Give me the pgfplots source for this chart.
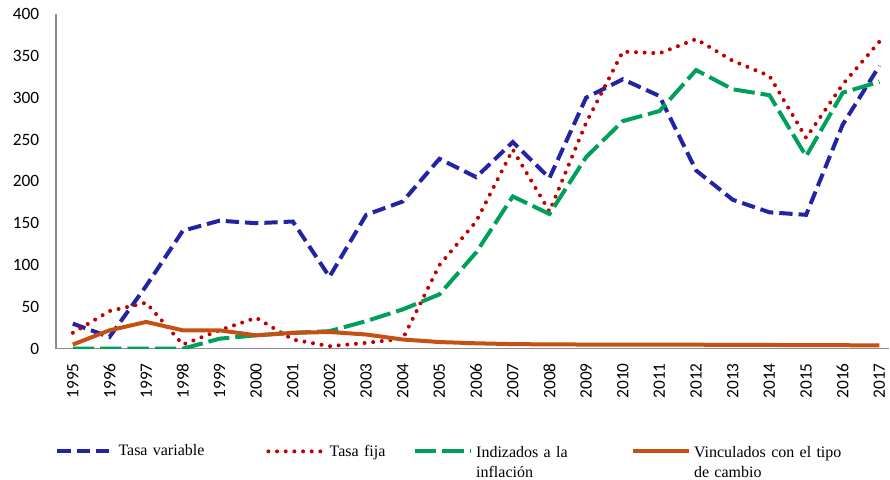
\documentclass[border=0pt]{standalone}
\usepackage{fontspec}
\setmainfont{Liberation Serif}
\newfontfamily\ticksfont{Carlito}
\usepackage{pgfplots}
\pgfplotsset{compat=1.18}
\definecolor{cvar}{RGB}{35,35,165}
\definecolor{cfija}{RGB}{192,0,0}
\definecolor{cinfl}{RGB}{0,160,90}
\definecolor{ccamb}{RGB}{197,80,20}
\definecolor{axgray}{RGB}{140,140,140}

\begin{document}
\begin{tikzpicture}
\begin{axis}[
    scale only axis,
    width=625.5pt,
    height=251.25pt,
    xmin=1994.54, xmax=2017.27,
    ymin=0, ymax=400,
    axis x line=bottom,
    axis y line=left,
    axis line style={-, axgray, line width=1pt},
    xtick={1995,...,2017},
    ytick={0,50,...,400},
    major tick length=0pt,
    /pgf/number format/assume math mode=true,
    xticklabel style={rotate=90, anchor=east, font=\ticksfont\fontsize{13}{15}\selectfont, xshift=-7.5pt,
        /pgf/number format/1000 sep={}},
    yticklabel style={font=\ticksfont\fontsize{13}{15}\selectfont, xshift=-9pt},
    legend columns=4,
    legend cell align=left,
    legend style={at={(-0.006,-0.274)}, anchor=north west, draw=none,
        font=\fontsize{12}{15}\selectfont, column sep=0pt,
        nodes={inner sep=0pt}},
    legend image code/.code={\draw[#1] (0pt,0pt) -- (42pt,0pt);},
]
\addplot[cvar, line width=3pt, dash pattern=on 10pt off 4.5pt] coordinates {
    (1995,30) (1996,14) (1997,75) (1998,141) (1999,153) (2000,150)
    (2001,152) (2002,86) (2003,160) (2004,176) (2005,227) (2006,205)
    (2007,247) (2008,204) (2009,300) (2010,322) (2011,302) (2012,213)
    (2013,178) (2014,163) (2015,160) (2016,268) (2017,338)
};
\addlegendentry[text width=108.5pt, inner xsep=2.5pt]{Tasa variable}
\addplot[cfija, line width=3pt, line cap=round, dash pattern=on 0pt off 6.5pt] coordinates {
    (1995,19) (1996,45) (1997,55) (1998,5) (1999,22) (2000,37)
    (2001,11) (2002,3) (2003,7) (2004,12) (2005,100) (2006,152)
    (2007,238) (2008,164) (2009,270) (2010,355) (2011,353) (2012,370)
    (2013,344) (2014,326) (2015,252) (2016,316) (2017,367)
};
\addlegendentry[text width=60pt, inner xsep=2.5pt]{Tasa fija}
\addplot[cinfl, line width=3pt, dash pattern=on 16pt off 4.5pt] coordinates {
    (1995,0) (1996,0) (1997,0) (1998,0) (1999,12) (2000,16)
    (2001,19) (2002,21) (2003,33) (2004,47) (2005,65) (2006,115)
    (2007,182) (2008,161) (2009,229) (2010,272) (2011,284) (2012,333)
    (2013,310) (2014,303) (2015,230) (2016,306) (2017,319)
};
\addlegendentry[text width=113.5pt, inner xsep=2.5pt]{\begin{tabular}[t]{@{}l@{}}Indizados a la\\inflación\end{tabular}}
\addplot[ccamb, line width=3pt] coordinates {
    (1995,5) (1996,22) (1997,32) (1998,22) (1999,22) (2000,16)
    (2001,19) (2002,20) (2003,17) (2004,11) (2005,8) (2006,6.5)
    (2007,5.5) (2008,5.2) (2009,5) (2010,5) (2011,5) (2012,4.8)
    (2013,4.6) (2014,4.5) (2015,4.3) (2016,4.2) (2017,4)
};
\addlegendentry[text width=112pt, inner xsep=2.5pt]{\begin{tabular}[t]{@{}l@{}}Vinculados con el tipo\\de cambio\end{tabular}}
\end{axis}
\path (current axis.south west) ++(-42pt,-98.5pt);
\path (current axis.north west) ++(0pt,10.5pt);
\end{tikzpicture}
\end{document}
